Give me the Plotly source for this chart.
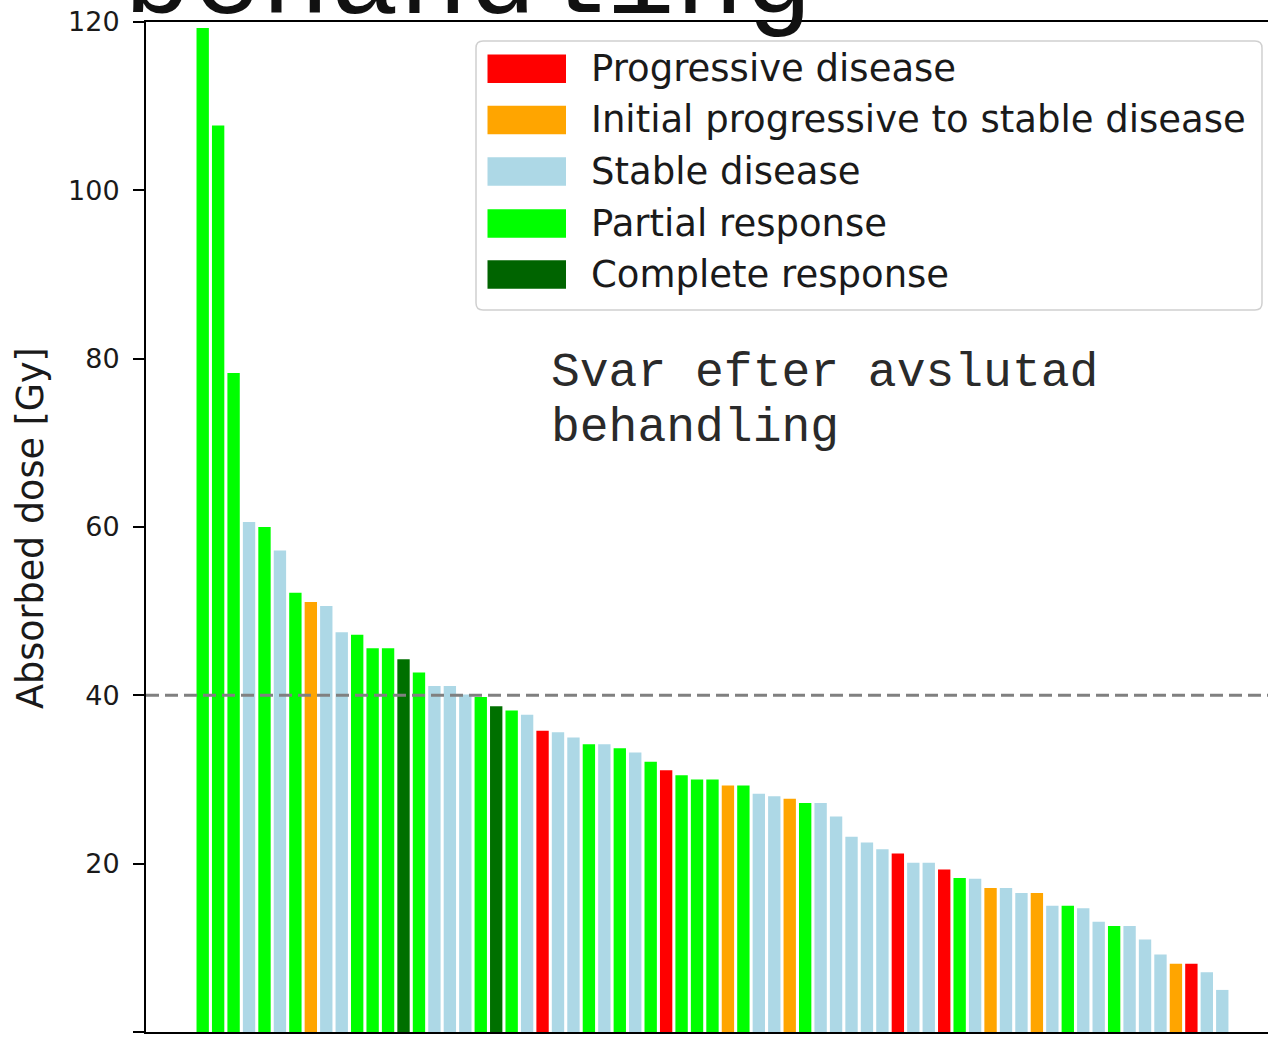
import plotly.graph_objects as go

# ---------------- data ----------------
dose_gy = [119.3, 107.7, 78.3, 60.6, 60.0, 57.2, 52.2, 51.1, 50.6, 47.5,
           47.2, 45.6, 45.6, 44.3, 42.7, 41.1, 41.1, 40.1, 39.8, 38.7,
           38.2, 37.7, 35.8, 35.6, 35.0, 34.2, 34.2, 33.7, 33.2, 32.1,
           31.1, 30.5, 30.0, 30.0, 29.3, 29.3, 28.3, 28.0, 27.7, 27.2,
           27.2, 25.6, 23.2, 22.5, 21.7, 21.2, 20.1, 20.1, 19.3, 18.3,
           18.2, 17.1, 17.1, 16.5, 16.5, 15.0, 15.0, 14.7, 13.1, 12.6,
           12.6, 11.0, 9.2, 8.1, 8.1, 7.1, 5.0]

response = ["PR", "PR", "PR", "SD", "PR", "SD", "PR", "IPSD", "SD", "SD",
            "PR", "PR", "PR", "CR", "PR", "SD", "SD", "SD", "PR", "CR",
            "PR", "SD", "PD", "SD", "SD", "PR", "SD", "PR", "SD", "PR",
            "PD", "PR", "PR", "PR", "IPSD", "PR", "SD", "SD", "IPSD", "PR",
            "SD", "SD", "SD", "SD", "SD", "PD", "SD", "SD", "PD", "PR",
            "SD", "IPSD", "SD", "SD", "IPSD", "SD", "PR", "SD", "SD", "PR",
            "SD", "SD", "SD", "IPSD", "PD", "SD", "SD"]

legend_codes = ["PD", "IPSD", "SD", "PR", "CR"]
legend_labels = ["Progressive disease",
                 "Initial progressive to stable disease",
                 "Stable disease",
                 "Partial response",
                 "Complete response"]
bar_colors = {"PD": "#ff0000", "IPSD": "#ffa500", "SD": "#add8e6",
              "PR": "#00ff00", "CR": "#007000"}
legend_colors = {"PD": "#ff0000", "IPSD": "#ffa500", "SD": "#add8e6",
                 "PR": "#00ff00", "CR": "#006400"}

threshold_gy = 40
y_ticks = [0, 20, 40, 60, 80, 100, 120]
title_text = "Svar efter avslutad<br>behandling"
inner_lines = ["Svar efter avslutad", "behandling"]
y_label = "Absorbed dose [Gy]"

# ---------------- geometry helpers ----------------
W, H = 1268, 1039
ML, MR, MT, MB = 146, 0, 22, 7
PW, PH = W - ML - MR, H - MT - MB
MONO = "Courier New, Liberation Mono, monospace"


def px(xp):
    return (xp - ML) / PW


def py(yp):
    return (H - MB - yp) / PH


idx = list(range(len(dose_gy)))

fig = go.Figure()
fig.add_trace(go.Bar(
    x=idx, y=dose_gy,
    marker=dict(color=[bar_colors[c] for c in response], line=dict(width=0)),
    showlegend=False,
    hovertext=response,
))

shapes = []
# threshold dashed line
shapes.append(dict(type="line", xref="paper", yref="y", x0=0, x1=1,
                   y0=threshold_gy, y1=threshold_gy, layer="above",
                   line=dict(color="#808080", width=3, dash="13px,6px")))

# legend frame (rounded)
lx0, lx1, ly0, ly1, r = 476, 1262, 41, 310, 7
pts = [
    ("M", lx0 + r, ly0), ("L", lx1 - r, ly0), ("Q", lx1, ly0, lx1, ly0 + r),
    ("L", lx1, ly1 - r), ("Q", lx1, ly1, lx1 - r, ly1), ("L", lx0 + r, ly1),
    ("Q", lx0, ly1, lx0, ly1 - r), ("L", lx0, ly0 + r), ("Q", lx0, ly0, lx0 + r, ly0),
]
path = ""
for p in pts:
    cmd = p[0]
    coords = p[1:]
    s = cmd
    for i in range(0, len(coords), 2):
        s += f" {px(coords[i]):.5f},{py(coords[i+1]):.5f}"
    path += s + " "
path += "Z"
shapes.append(dict(type="path", xref="paper", yref="paper", path=path,
                   fillcolor="rgba(255,255,255,0.8)",
                   line=dict(color="#d0d0d0", width=1.5), layer="above"))

annotations = []
row_centers = [68.7, 120.0, 171.5, 223.5, 274.5]
for code, label, yc in zip(legend_codes, legend_labels, row_centers):
    shapes.append(dict(type="rect", xref="paper", yref="paper",
                       x0=px(487.5), x1=px(566), y0=py(yc + 14.3), y1=py(yc - 14.3),
                       fillcolor=legend_colors[code], line=dict(width=0), layer="above"))
    annotations.append(dict(text=label, xref="paper", yref="paper",
                            x=px(589), y=py(yc), xanchor="left", yanchor="middle",
                            showarrow=False,
                            font=dict(family="DejaVu Sans", size=37, color="#1a1a1a")))

# inner text (two lines)
for line, base in zip(inner_lines, [386.7, 441.7]):
    annotations.append(dict(text=line, xref="paper", yref="paper",
                            x=px(549), y=py(base + 15.4), xanchor="left", yanchor="bottom",
                            showarrow=False,
                            font=dict(family=MONO, size=48, color="#2a2a2a")))

# huge title, mostly cut off at the top
annotations.append(dict(text=title_text, xref="paper", yref="paper",
                        x=px(121), y=py(14 + 35.5), xanchor="left", yanchor="bottom",
                        showarrow=False, align="left",
                        font=dict(family=MONO, size=115, color="#111111")))

# y-axis label
annotations.append(dict(text=y_label, xref="paper", yref="paper",
                        x=px(30), y=py(528), xanchor="center", yanchor="middle",
                        textangle=-90, showarrow=False,
                        font=dict(family="DejaVu Sans", size=36.5, color="#1a1a1a")))

fig.update_layout(
    width=W, height=H,
    margin=dict(l=ML, r=MR, t=MT, b=MB, autoexpand=False),
    paper_bgcolor="white", plot_bgcolor="white",
    bargap=0.2,
    shapes=shapes, annotations=annotations,
    font=dict(family="DejaVu Sans", color="#1a1a1a"),
    xaxis=dict(range=[-3.67, 68.96], showticklabels=False, ticks="",
               showgrid=False, zeroline=False, showline=True,
               linecolor="black", linewidth=2, mirror=True, fixedrange=True),
    yaxis=dict(range=[0, 120], tickvals=y_ticks, ticks="outside", ticklen=11,
               tickwidth=2, tickcolor="black", showline=True, linecolor="black",
               linewidth=2, showgrid=False, zeroline=False, ticklabelstandoff=8,
               tickfont=dict(family="DejaVu Sans", size=27, color="#1a1a1a"),
               fixedrange=True),
)

fig.write_html("out.html",
               config={"displayModeBar": False},
               post_script="document.body.style.margin='0';document.body.style.overflow='hidden';")
